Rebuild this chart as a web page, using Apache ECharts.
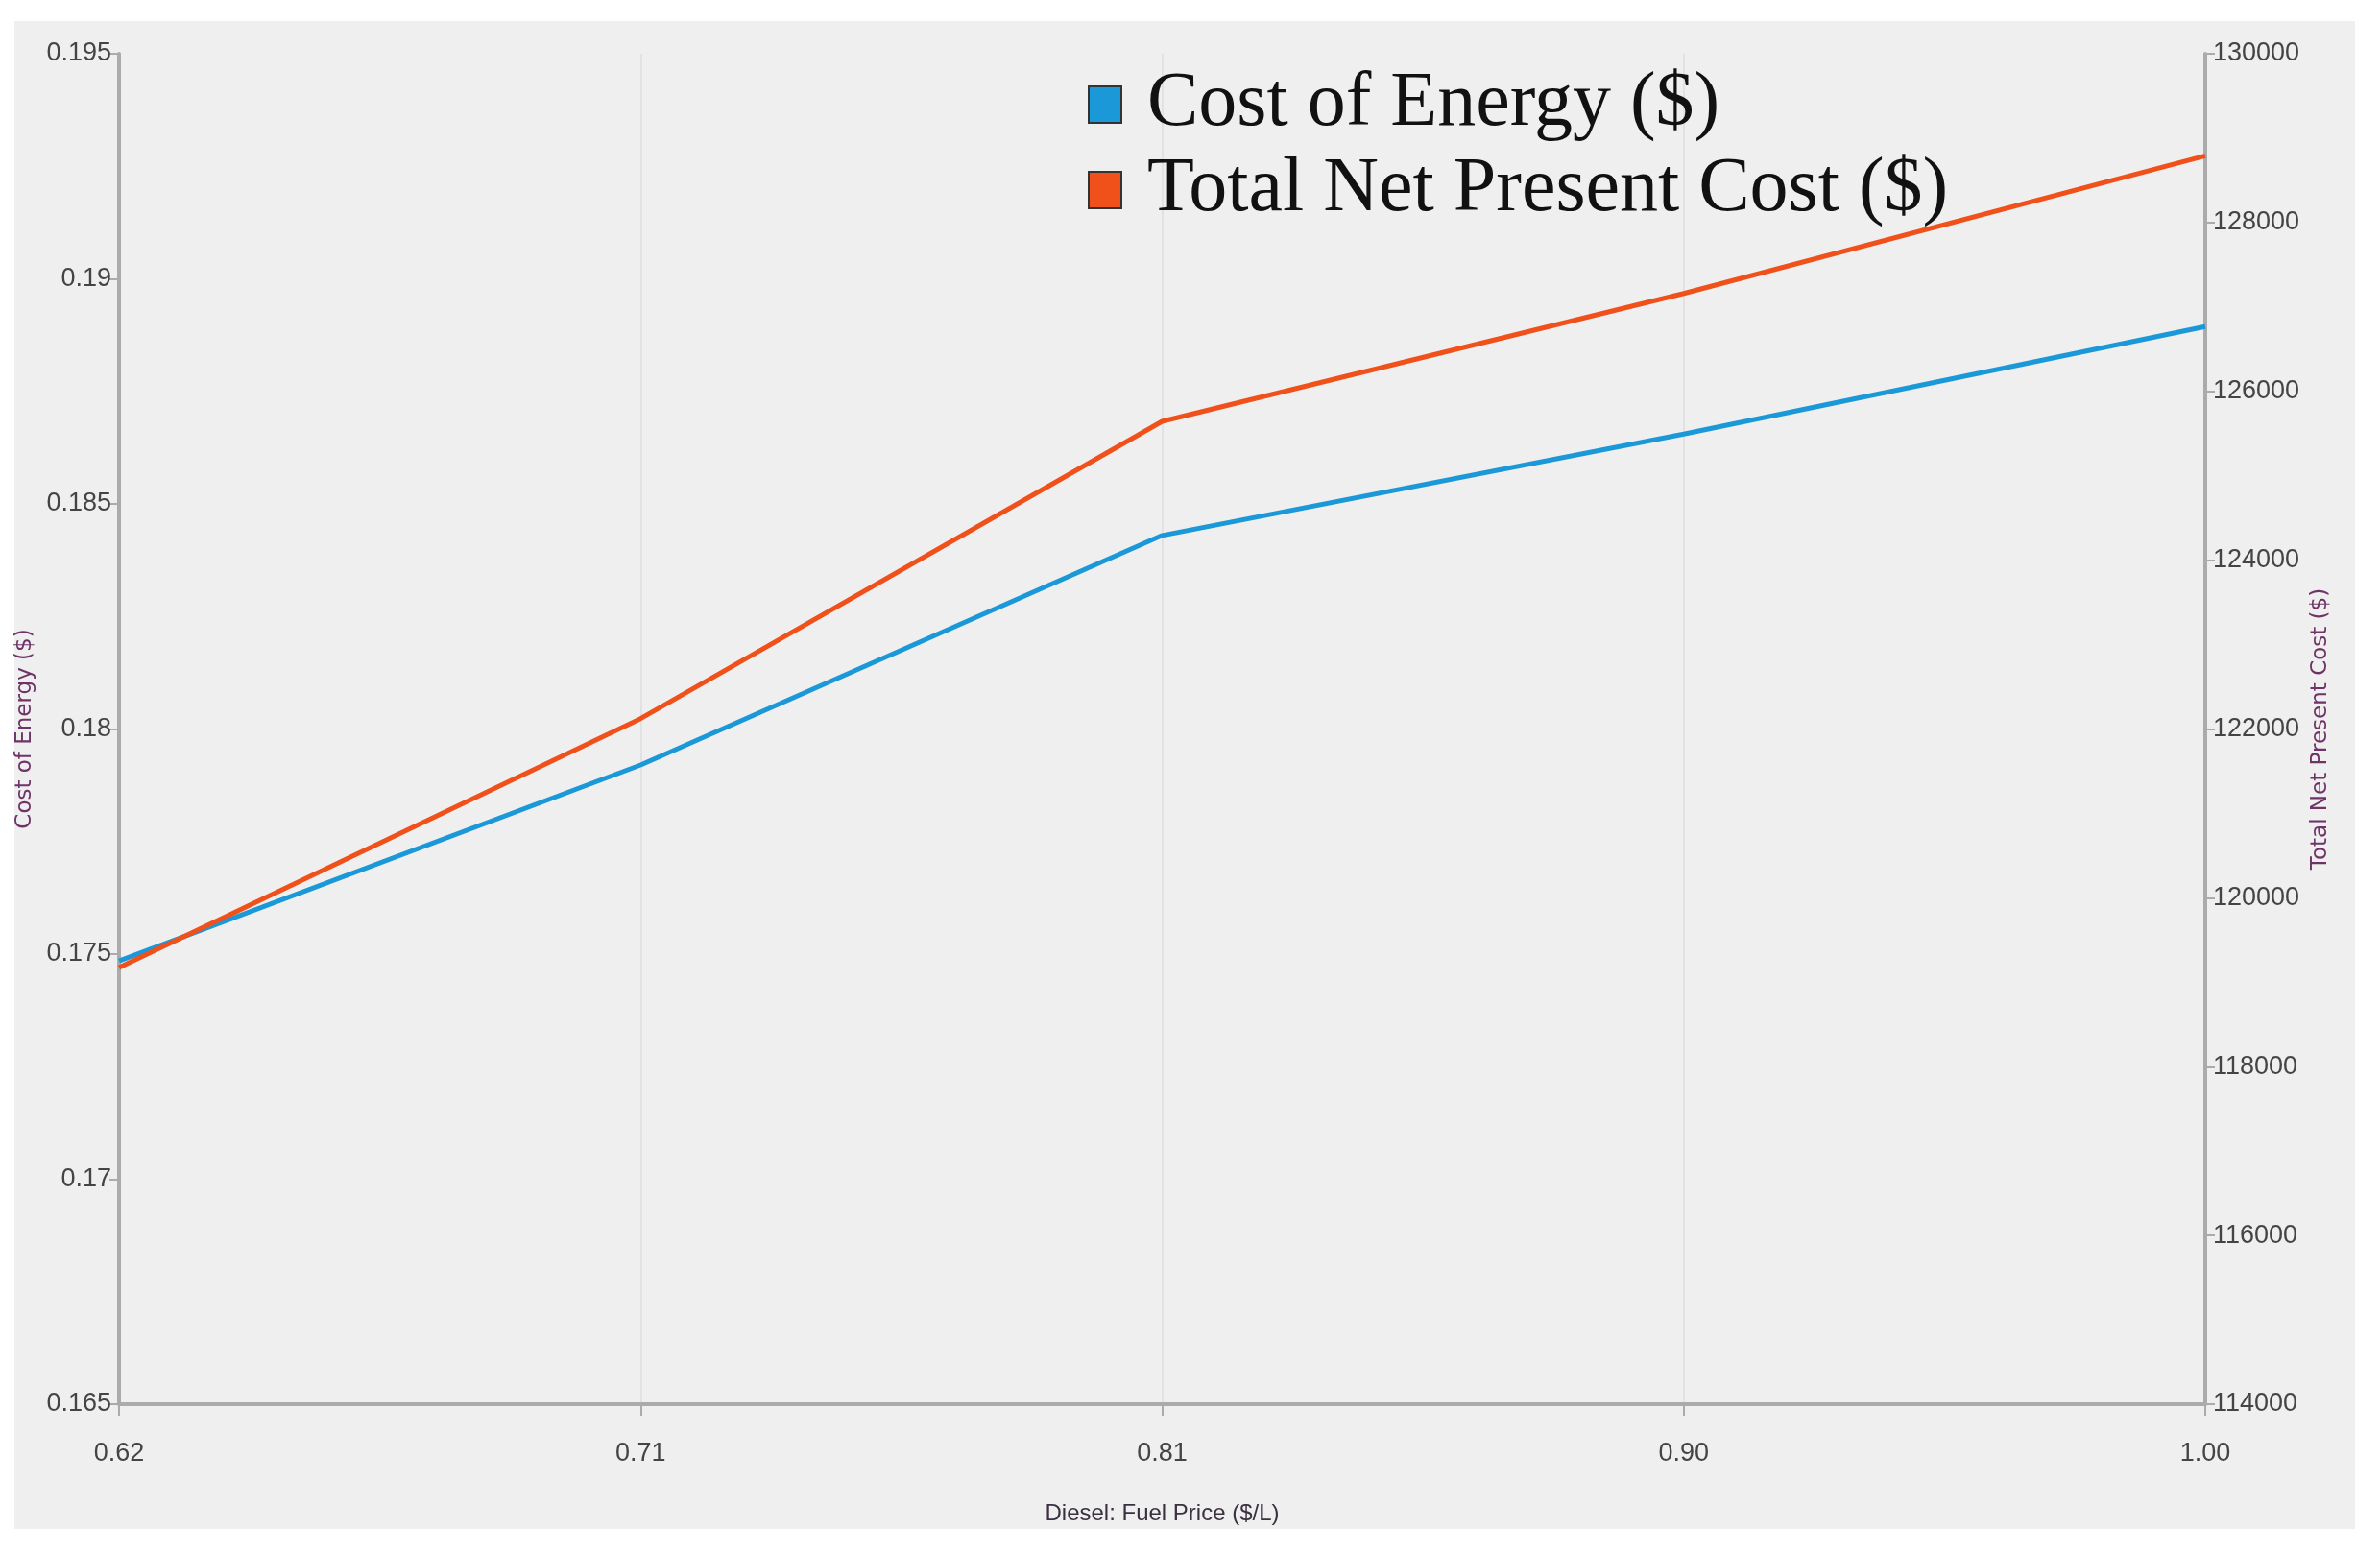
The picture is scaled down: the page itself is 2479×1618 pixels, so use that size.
<!DOCTYPE html>
<html>
<head>
<meta charset="utf-8">
<script src="https://cdn.jsdelivr.net/npm/echarts@6/dist/echarts.min.js"></script>
<style>
  html, body { margin: 0; padding: 0; background: #ffffff; }
  #chart { width: 2479px; height: 1618px; }
</style>
</head>
<body>
<div id="chart"></div>
<script>
// ---- data ----
const fuelPrices = ['0.62', '0.71', '0.81', '0.90', '1.00'];
const costOfEnergy = [0.17485, 0.1792, 0.1843, 0.18655, 0.18894];
const totalNPC = [119175, 122123, 125645, 127160, 128790];
const seriesNames = ['Cost of Energy ($)', 'Total Net Present Cost ($)'];
const xAxisTitle = 'Diesel: Fuel Price ($/L)';

const blue = '#1b98d8';
const orange = '#f0501a';
const axisGrey = '#ababab';
const labelFont = "'Liberation Sans Narrow', 'Liberation Sans', sans-serif";

const chart = echarts.init(document.getElementById('chart'));
chart.setOption({
  backgroundColor: '#ffffff',
  animation: false,
  graphic: [{
    type: 'rect',
    left: 15, top: 22,
    shape: { width: 2438, height: 1571 },
    style: { fill: '#efefef' },
    z: -10,
    silent: true
  }],
  grid: { left: 124, right: 182, top: 56, bottom: 155, containLabel: false },
  legend: {
    orient: 'vertical',
    left: 1128,
    top: 64,
    icon: 'rect',
    itemWidth: 34,
    itemHeight: 38,
    itemGap: 9,
    textStyle: {
      fontFamily: "'Liberation Serif', 'DejaVu Serif', serif",
      fontSize: 80,
      lineHeight: 80,
      color: '#111111',
      padding: [0, 0, 0, 22]
    },
    data: seriesNames.map((n, i) => ({
      name: n,
      itemStyle: { color: i === 0 ? blue : orange, borderColor: '#333333', borderWidth: 2 }
    }))
  },
  xAxis: {
    type: 'category',
    data: fuelPrices,
    boundaryGap: false,
    name: xAxisTitle,
    nameLocation: 'middle',
    nameGap: 102,
    nameTextStyle: { fontFamily: labelFont, fontSize: 24, color: '#3a3040' },
    axisLine: { lineStyle: { color: axisGrey, width: 4 } },
    axisTick: { show: true, length: 12, lineStyle: { color: axisGrey, width: 2 } },
    axisLabel: { fontFamily: labelFont, fontSize: 27, color: '#444444', margin: 38 },
    splitLine: { show: true, lineStyle: { color: '#e2e2e2', width: 2 } }
  },
  yAxis: [{
    type: 'value',
    min: 0.165, max: 0.195, interval: 0.005,
    name: seriesNames[0],
    nameLocation: 'middle',
    nameRotate: 90,
    nameGap: 76,
    nameTextStyle: { fontFamily: "'DejaVu Sans', sans-serif", fontSize: 23, color: '#6e3468' },
    axisLine: { show: true, lineStyle: { color: axisGrey, width: 4 } },
    axisTick: { show: true, length: 10, lineStyle: { color: axisGrey, width: 2 } },
    axisLabel: {
      fontFamily: labelFont, fontSize: 27, color: '#444444', margin: 8,
      formatter: v => String(parseFloat(v.toFixed(4)))
    },
    splitLine: { show: false }
  }, {
    type: 'value',
    position: 'right',
    min: 114000, max: 130000, interval: 2000,
    name: seriesNames[1],
    nameLocation: 'middle',
    nameRotate: 90,
    nameGap: 96,
    nameTextStyle: { fontFamily: "'DejaVu Sans', sans-serif", fontSize: 23, color: '#6e3468' },
    axisLine: { show: true, lineStyle: { color: axisGrey, width: 4 } },
    axisTick: { show: true, length: 10, lineStyle: { color: axisGrey, width: 2 } },
    axisLabel: {
      fontFamily: labelFont, fontSize: 27, color: '#444444', margin: 8,
      formatter: v => String(Math.round(v))
    },
    splitLine: { show: false }
  }],
  series: [{
    name: seriesNames[0],
    type: 'line',
    yAxisIndex: 0,
    data: costOfEnergy,
    showSymbol: false,
    symbol: 'none',
    color: blue,
    lineStyle: { color: blue, width: 5 },
    z: 3
  }, {
    name: seriesNames[1],
    type: 'line',
    yAxisIndex: 1,
    data: totalNPC,
    showSymbol: false,
    symbol: 'none',
    color: orange,
    lineStyle: { color: orange, width: 5 },
    z: 4
  }]
});
</script>
</body>
</html>
